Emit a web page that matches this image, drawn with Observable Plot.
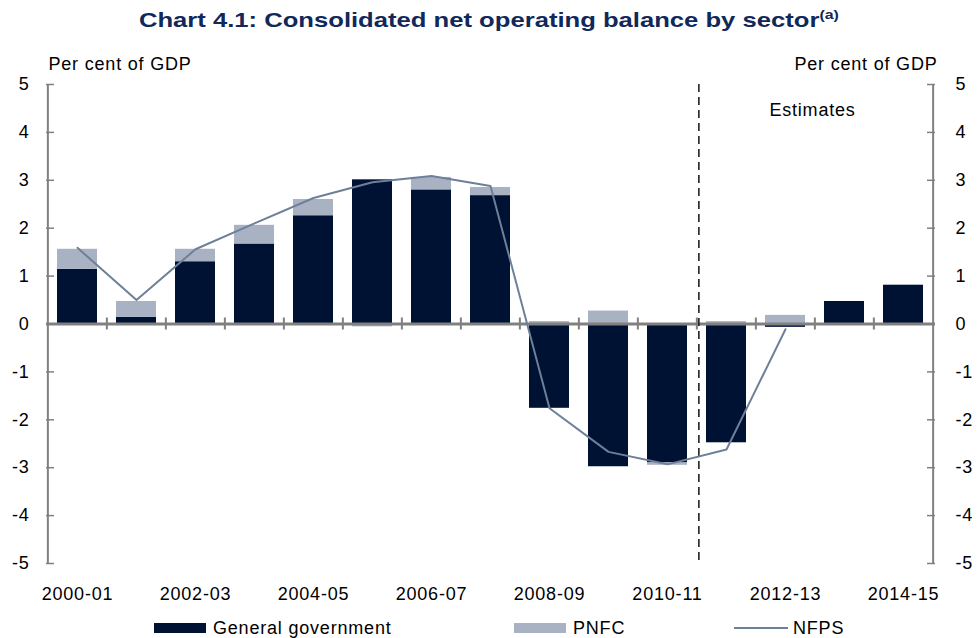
<!DOCTYPE html>
<html><head><meta charset="utf-8">
<script src="https://cdn.jsdelivr.net/npm/d3@7"></script>
<script src="https://cdn.jsdelivr.net/npm/@observablehq/plot@0.6"></script>
<style>
body{margin:0;background:#fff;font-family:"Liberation Sans",Arial,sans-serif;width:977px;height:638px;overflow:hidden;}
#title{height:40px;text-align:center;line-height:40px;}
#title span{display:inline-block;font-weight:bold;font-size:21px;color:#10285a;transform:scaleX(1.22);transform-origin:center;}
#title sup{font-size:13px;vertical-align:8px;line-height:0;}
#legend{position:relative;height:26px;font-size:18px;letter-spacing:0.8px;}
#legend .it{position:absolute;top:3px;height:26px;display:flex;align-items:center;}
#legend .sw{display:inline-block;width:52px;height:10px;margin-right:7px;}
#legend .ln{display:inline-block;width:54px;height:2px;margin-right:5px;}
</style></head><body>
<div id="title"><span>Chart 4.1: Consolidated net operating balance by sector<sup>(a)</sup></span></div>
<div id="chart"></div>
<div id="legend">
  <div class="it" style="left:154px"><span class="sw" style="background:#001233"></span>General government</div>
  <div class="it" style="left:514px"><span class="sw" style="background:#a9b2c3"></span>PNFC</div>
  <div class="it" style="left:734px"><span class="ln" style="background:#6e7f9a"></span>NFPS</div>
</div>
<script>
const years = ["2000-01","2001-02","2002-03","2003-04","2004-05","2005-06","2006-07","2007-08","2008-09","2009-10","2010-11","2011-12","2012-13","2013-14","2014-15"];
const generalGovernment = [1.14,0.14,1.30,1.67,2.26,3.01,2.80,2.68,-1.76,-2.98,-2.90,-2.48,-0.07,0.47,0.81];
const pnfc = [0.42,0.33,0.26,0.39,0.34,-0.06,0.26,0.17,0.05,0.27,-0.05,0.05,0.18,0,0];
const nfps = [1.59,0.50,1.56,2.10,2.63,2.96,3.09,2.88,-1.76,-2.67,-2.93,-2.62,-0.11,null,null];
const yTicks = [-5,-4,-3,-2,-1,0,1,2,3,4,5];
const xLabels = ["2000-01","2002-03","2004-05","2006-07","2008-09","2010-11","2012-13","2014-15"];
const series = ["General government","PNFC"];
const colors = ["#001233","#a9b2c3"];
const estimatesStart = "2011-12";

const W = 977, H = 572, mL = 46, mR = 42, mT = 44, mB = 49;
const step = (W - mL - mR) / years.length;

const bars = [];
years.forEach((y, i) => {
  bars.push({year: y, series: series[0], value: generalGovernment[i]});
  bars.push({year: y, series: series[1], value: pnfc[i]});
});
const line = years.map((y, i) => ({year: y, value: nfps[i]})).filter(d => d.value != null);
const axisColor = "#808080";

const chart = Plot.plot({
  width: W, height: H,
  marginLeft: mL, marginRight: mR, marginTop: mT, marginBottom: mB,
  style: {fontFamily: "Liberation Sans, Arial, sans-serif", fontSize: "18px", letterSpacing: "0.8px", color: "#000", background: "#fff"},
  x: {type: "band", domain: years, paddingInner: 0.32, paddingOuter: 0.16, axis: null, label: null},
  y: {domain: [-5, 5], axis: null, label: null},
  color: {domain: series, range: colors},
  marks: [
    Plot.barY(bars, Plot.stackY({x: "year", y: "value", fill: "series", order: series})),
    Plot.ruleY([0], {stroke: axisColor, strokeWidth: 3}),
    Plot.ruleX(years.slice(1), {x: d => d, dx: -step / 2, y1: 0, y2: 0, insetTop: -6, insetBottom: -6, stroke: axisColor, strokeWidth: 2}),
    Plot.ruleX([years[0]], {x: d => d, dx: -step / 2, stroke: axisColor, strokeWidth: 2}),
    Plot.ruleX([years[years.length - 1]], {x: d => d, dx: step / 2, stroke: axisColor, strokeWidth: 2}),
    Plot.tickY(yTicks, {y: d => d, insetRight: W - mL - mR - 8, stroke: axisColor, strokeWidth: 1.5}),
    Plot.tickY(yTicks, {y: d => d, insetLeft: W - mL - mR - 8, stroke: axisColor, strokeWidth: 1.5}),
    Plot.ruleX([estimatesStart], {x: d => d, dx: -step / 2 + 2, stroke: "#222", strokeWidth: 1.6, strokeDasharray: "8,5"}),
    Plot.line(line, {x: "year", y: "value", stroke: "#6e7f9a", strokeWidth: 2}),
    Plot.axisY({anchor: "left", ticks: yTicks, tickSize: 0, tickPadding: 17, fontSize: 18, label: null, tickFormat: d => String(d)}),
    Plot.axisY({anchor: "right", ticks: yTicks, tickSize: 0, tickPadding: 20, fontSize: 18, label: null, tickFormat: d => String(d)}),
    Plot.axisX({anchor: "bottom", ticks: xLabels, tickSize: 0, tickPadding: 24, fontSize: 18, label: null}),
    Plot.text(["Per cent of GDP"], {frameAnchor: "top-left", text: d => d, textAnchor: "start", dx: 2, dy: -27, fontSize: 18}),
    Plot.text(["Per cent of GDP"], {frameAnchor: "top-right", text: d => d, textAnchor: "end", dx: 2, dy: -27, fontSize: 18}),
    Plot.text([{year: "2012-13", label: "Estimates"}], {x: "year", text: "label", frameAnchor: "top", dx: 27, dy: 19, fontSize: 18})
  ]
});
document.getElementById("chart").appendChild(chart);
</script>
</body></html>
